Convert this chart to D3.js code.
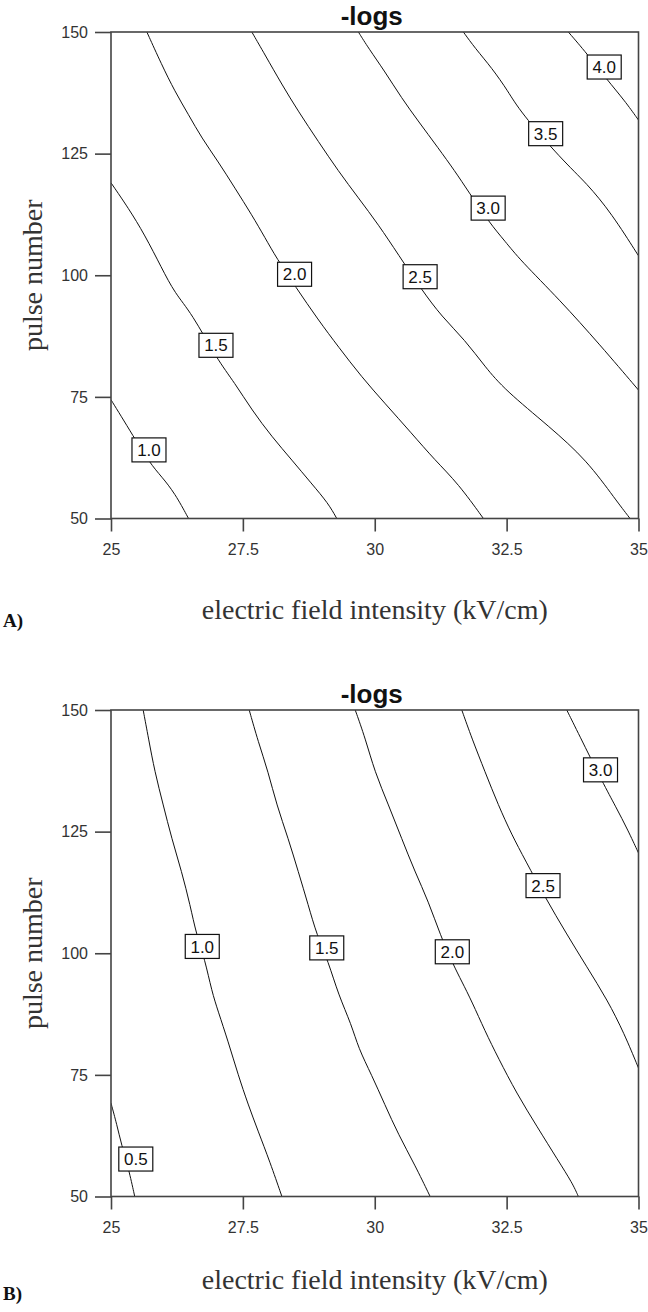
<!DOCTYPE html>
<html>
<head>
<meta charset="utf-8">
<script src="https://cdn.jsdelivr.net/npm/d3@7"></script>
<style>
  body { margin: 0; background: #fff; }
  svg { display: block; }
</style>
</head>
<body>
<svg id="chart" width="648" height="1312"></svg>
<script>
// axis ticks
const xTicks = [25, 27.5, 30, 32.5, 35];
const yTicks = [50, 75, 100, 125, 150];

// panel A contours, points are [field kV/cm, pulse number]
const lineA10 = [[25.00,74.4],[25.20,70.9],[25.39,67.5],[25.74,61.3],[25.96,58.6],[26.21,55.2],[26.47,50]];
const lineA15 = [[25.00,119.0],[25.33,113.8],[25.64,108.3],[25.96,101.5],[26.21,96.3],[26.53,92.2],[27.00,82.9],[27.35,77.8],[27.67,72.3],[28.05,66.8],[28.43,62.0],[28.80,57.2],[29.12,53.1],[29.28,50]];
const lineA20 = [[25.68,150],[25.96,143.3],[26.21,137.8],[26.47,133.0],[26.72,128.2],[27.03,123.4],[27.35,117.9],[27.67,112.4],[27.92,107.7],[28.14,103.5],[28.50,97.6],[28.93,90.8],[29.31,85.3],[29.75,79.1],[30.19,73.7],[30.70,67.5],[31.14,62.0],[31.58,57.2],[32.06,50]];
const lineA25 = [[27.67,150],[27.92,145.3],[28.24,139.2],[28.55,133.7],[28.93,127.5],[29.31,121.4],[29.69,115.9],[30.07,110.4],[30.45,104.2],[30.89,97.0],[31.27,91.5],[31.71,86.7],[32.09,81.2],[32.47,76.4],[33.31,68.9],[34.02,62.0],[34.57,53.8],[34.84,50]];
const lineA30 = [[29.69,150],[29.88,146.7],[30.19,141.9],[30.51,136.4],[30.83,131.6],[31.20,126.2],[31.52,121.4],[31.77,117.3],[32.18,110.7],[32.47,107.0],[32.75,103.2],[33.51,94.9],[34.27,85.7],[35,76.4]];
const lineA35 = [[31.68,150],[31.90,146.7],[32.22,142.6],[32.53,137.8],[32.75,133.7],[33.55,123.7],[34.02,118.9],[34.49,112.7],[35,104.0]];
const lineA40 = [[33.67,150],[34.02,145.6],[34.41,140.1],[34.73,136.0],[35,131.9]];
const labelsA = [["1.0",25.72,64.1],["1.5",26.99,85.6],["2.0",28.48,100.2],["2.5",30.86,99.7],["3.0",32.15,113.8],["3.5",33.24,129.1],["4.0",34.35,142.8]];

// panel B contours
const lineB05 = [[25.00,69.2],[25.11,64.8],[25.20,60.6],[25.33,55.9],[25.45,50]];
const lineB10 = [[25.61,150],[25.71,144.2],[25.83,137.3],[25.99,130.5],[26.15,123.6],[26.34,116.8],[26.50,109.9],[26.62,103.8],[26.78,98.7],[26.91,92.2],[27.03,88.1],[27.22,81.9],[27.41,75.0],[27.60,68.9],[27.79,63.4],[28.01,57.2],[28.24,50]];
const lineB15 = [[27.62,150],[27.79,143.5],[27.98,137.3],[28.14,130.5],[28.36,123.6],[28.55,116.8],[28.74,109.9],[28.90,103.8],[29.12,98.3],[29.31,91.5],[29.56,85.3],[29.69,80.5],[29.94,75.0],[30.19,68.9],[30.45,62.7],[30.76,56.5],[31.05,50]];
const lineB20 = [[29.63,150],[29.82,144.2],[30.00,137.3],[30.26,130.5],[30.51,123.6],[30.76,116.8],[31.02,110.6],[31.24,103.8],[31.49,97.6],[31.65,94.2],[31.84,90.1],[32.09,84.0],[32.34,78.5],[32.69,71.2],[33.08,64.3],[33.47,57.5],[33.75,52.7],[33.86,50]];
const lineB25 = [[31.65,150],[31.84,144.2],[32.09,137.3],[32.34,130.5],[32.60,124.3],[32.85,119.2],[33.24,111.3],[33.63,104.1],[34.02,97.2],[34.41,90.4],[34.73,83.5],[35,76.4]];
const lineB30 = [[33.64,150],[33.86,145.2],[34.33,134.9],[34.57,130.1],[34.80,125.3],[35,120.6]];
const labelsB = [["0.5",25.47,57.7],["1.0",26.73,101.4],["1.5",29.09,101.1],["2.0",31.47,100.3],["2.5",33.19,113.9],["3.0",34.28,137.7]];

const plotLeft = 111, plotW = 527.5, plotH = 486.5;

const x = d3.scaleLinear().domain([25, 35]).range([0, plotW]);
const y = d3.scaleLinear().domain([50, 150]).range([plotH, 0]);

// basis smooths out reading noise, still ends on the frame
const line = d3.line()
  .x(d => x(d[0]))
  .y(d => y(d[1]))
  .curve(d3.curveBasis);

const svg = d3.select("#chart");

function panel(opts) {
  const { id, top, lines, labels, tag, xLabelY, tagY } = opts;

  const g = svg.append("g")
    .attr("id", id)
    .attr("transform", `translate(${plotLeft},${top})`);

  g.append("clipPath").attr("id", "clip-" + id)
    .append("rect").attr("width", plotW).attr("height", plotH);

  // contour lines
  g.append("g")
    .attr("clip-path", `url(#clip-${id})`)
    .selectAll("path")
    .data(lines)
    .join("path")
    .attr("d", line)
    .attr("fill", "none")
    .attr("stroke", "#111")
    .attr("stroke-width", 1);

  // axes
  const yAxis = d3.axisLeft(y).tickValues(yTicks).tickSize(16).tickPadding(7)
    .tickFormat(d3.format("d"));
  const xAxis = d3.axisBottom(x).tickValues(xTicks).tickSize(13).tickPadding(12)
    .tickFormat(d => String(d));

  g.append("g").attr("color", "#444").call(yAxis)
    .call(a => a.select(".domain").remove())
    .call(a => a.selectAll("line").attr("stroke-width", 1.6))
    .call(a => a.selectAll("text").attr("fill", "#333")
      .attr("font-family", "'Liberation Sans', Arial, sans-serif").attr("font-size", 16));

  g.append("g").attr("color", "#444").attr("transform", `translate(0,${plotH})`).call(xAxis)
    .call(a => a.select(".domain").remove())
    .call(a => a.selectAll("line").attr("stroke-width", 1.6))
    .call(a => a.selectAll("text").attr("fill", "#333")
      .attr("font-family", "'Liberation Sans', Arial, sans-serif").attr("font-size", 16));

  // frame
  g.append("rect")
    .attr("width", plotW).attr("height", plotH)
    .attr("fill", "none").attr("stroke", "#444").attr("stroke-width", 1.6);

  // contour labels
  const lab = g.append("g").selectAll("g")
    .data(labels)
    .join("g")
    .attr("transform", d => `translate(${x(d[1])},${y(d[2])})`);
  lab.append("rect")
    .attr("x", -17).attr("y", -12).attr("width", 34).attr("height", 24)
    .attr("fill", "#fff").attr("stroke", "#111").attr("stroke-width", 1.2);
  lab.append("text")
    .attr("text-anchor", "middle")
    .attr("dy", "0.36em")
    .attr("font-family", "'Liberation Sans', Arial, sans-serif")
    .attr("font-size", 17)
    .attr("fill", "#111")
    .text(d => d[0]);

  // title
  g.append("text")
    .attr("x", plotW / 2 - 3).attr("y", -7)
    .attr("text-anchor", "middle")
    .attr("font-family", "'Liberation Sans', Arial, sans-serif")
    .attr("font-size", 26).attr("font-weight", "bold")
    .attr("fill", "#111")
    .text("-logs");

  // axis titles
  g.append("text")
    .attr("transform", `translate(${42 - plotLeft},${plotH / 2}) rotate(-90)`)
    .attr("text-anchor", "middle")
    .attr("font-family", "'Liberation Serif', 'Times New Roman', serif")
    .attr("font-size", 28).attr("fill", "#333")
    .text("pulse number");

  g.append("text")
    .attr("x", plotW / 2).attr("y", xLabelY - top)
    .attr("text-anchor", "middle")
    .attr("font-family", "'Liberation Serif', 'Times New Roman', serif")
    .attr("font-size", 28).attr("fill", "#333")
    .text("electric field intensity (kV/cm)");

  svg.append("text")
    .attr("x", 3).attr("y", tagY)
    .attr("font-family", "'Liberation Serif', 'Times New Roman', serif")
    .attr("font-size", 19).attr("font-weight", "bold")
    .attr("fill", "#111")
    .text(tag);
}

panel({
  id: "panelA", top: 32,
  lines: [lineA10, lineA15, lineA20, lineA25, lineA30, lineA35, lineA40],
  labels: labelsA, tag: "A)", xLabelY: 619, tagY: 627
});

panel({
  id: "panelB", top: 710,
  lines: [lineB05, lineB10, lineB15, lineB20, lineB25, lineB30],
  labels: labelsB, tag: "B)", xLabelY: 1289, tagY: 1300
});
</script>
</body>
</html>
